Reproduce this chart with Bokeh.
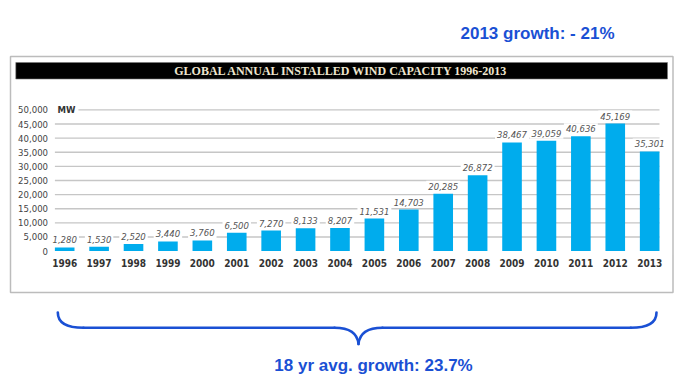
from bokeh.plotting import figure
from bokeh.models import Range1d, ColumnDataSource
from bokeh.core.properties import value
from bokeh.embed import file_html
from bokeh.resources import INLINE

# ---------------- data ----------------
years = [1996, 1997, 1998, 1999, 2000, 2001, 2002, 2003, 2004,
         2005, 2006, 2007, 2008, 2009, 2010, 2011, 2012, 2013]
capacity_mw = [1280, 1530, 2520, 3440, 3760, 6500, 7270, 8133, 8207,
               11531, 14703, 20285, 26872, 38467, 39059, 40636, 45169, 35301]
y_ticks = [0, 5000, 10000, 15000, 20000, 25000, 30000, 35000, 40000, 45000, 50000]
y_tick_labels = ["0", "5,000", "10,000", "15,000", "20,000", "25,000",
                 "30,000", "35,000", "40,000", "45,000", "50,000"]
year_labels = [str(y) for y in years]
value_labels = [f"{v:,}" for v in capacity_mw]
chart_title = "GLOBAL ANNUAL INSTALLED WIND CAPACITY 1996-2013"
unit_label = "MW"
top_note = "2013 growth: - 21%"
bottom_note = "18 yr avg. growth: 23.7%"

# ---------------- layout / styles ----------------
W, H = 680, 377
X0_PX, DX_PX = 64.2, 34.41        # px of first year, px per year
Y0_PX, DY_PX = 250.6, 0.002824    # px (from top) of 0 MW, px per MW
BAR_W = 0.57
BAR_COLOR = "#00aced"
GRID_COLOR = "#c6c6c6"
BLUE = "#1a50d4"
NARROW = value("'DejaVu Sans Condensed', 'Liberation Sans Narrow', Roboto, sans-serif")

x_range = Range1d(years[0] - X0_PX / DX_PX, years[0] + (W - X0_PX) / DX_PX)
y_range = Range1d(-(H - Y0_PX) / DY_PX, Y0_PX / DY_PX)

p = figure(width=W, height=H, x_range=x_range, y_range=y_range,
           output_backend="svg", toolbar_location=None,
           x_axis_location=None, y_axis_location=None, title=None,
           min_border=0, outline_line_color=None, background_fill_color="white",
           border_fill_color="white")
p.grid.visible = False
p.extra_x_ranges = {"px": Range1d(0, W)}
p.extra_y_ranges = {"py": Range1d(H, 0)}
PX = dict(x_range_name="px", y_range_name="py")

# outer frame and title bar
p.quad(left=10, right=672.5, top=56, bottom=292, fill_color=None,
       line_color="#bcbcbc", line_width=1.5, **PX)
p.quad(left=15.3, right=667, top=62, bottom=78.5, fill_color="black",
       line_color="#777777", line_width=0.6, **PX)
p.text(x=[341], y=[70.5], text=[chart_title], text_font=value("Liberation Serif"),
       text_font_style="bold", text_font_size="12px", text_color="#eee6cf",
       text_align="center", text_baseline="middle", **PX)

# horizontal gridlines
grid_src = ColumnDataSource(dict(y=y_ticks[1:]))
p.segment(x0=years[0] - BAR_W / 2, x1=years[-1] + BAR_W / 2, y0="y", y1="y",
          source=grid_src, line_color=GRID_COLOR, line_width=1.4)

# bars
src = ColumnDataSource(dict(year=years, mw=capacity_mw, vlab=value_labels, ylab=year_labels))
p.vbar(x="year", top="mw", bottom=0, width=BAR_W, source=src,
       fill_color=BAR_COLOR, line_color=None)

# value labels above bars
p.text(x="year", y="mw", text="vlab", source=src, text_font=NARROW,
       text_font_style="italic", text_font_size="9.5px", text_color="#555555",
       text_align="center", text_baseline="bottom", y_offset=-2,
       background_fill_color="white", padding=2)

# year labels
p.text(x="year", y=262.7, text="ylab", source=src, text_font=NARROW,
       text_font_style="bold", text_font_size="10px", text_color="#333333",
       text_align="center", text_baseline="middle", y_range_name="py")

# y tick labels
tick_src = ColumnDataSource(dict(y=y_ticks, lab=y_tick_labels))
p.text(x=47.5, y="y", text="lab", source=tick_src, text_font=NARROW,
       text_font_size="9.5px", text_color="#444444", text_align="right",
       text_baseline="middle", x_range_name="px")

# unit label
p.text(x=[54], y=[y_ticks[-1]], text=[unit_label], text_font=NARROW,
       text_font_style="bold", text_font_size="9.5px", text_color="#333333",
       text_align="left", text_baseline="middle", x_range_name="px",
       background_fill_color="white", padding=3)

# annotations
p.text(x=[537], y=[33], text=[top_note], text_font=value("Liberation Sans"),
       text_font_style="bold", text_font_size="17px", text_color=BLUE,
       text_align="center", text_baseline="middle", **PX)
p.text(x=[373], y=[365], text=[bottom_note], text_font=value("Liberation Sans"),
       text_font_style="bold", text_font_size="17px", text_color=BLUE,
       text_align="center", text_baseline="middle", **PX)

# curly brace
BL, BR, BTOP, BMID, TIPX, TIPY = 57.3, 656.0, 312.0, 327.3, 358.0, 343.5
brace = dict(line_color=BLUE, line_width=2.6, line_cap="round")
p.bezier(x0=[BL, TIPX - 24, TIPX, BR - 25.7],
         y0=[BTOP, BMID, TIPY, BMID],
         x1=[BL + 25.7, TIPX, TIPX + 24, BR],
         y1=[BMID, TIPY, BMID, BTOP],
         cx0=[BL, TIPX - 8, TIPX + 1, BR - 9],
         cy0=[BTOP + 10, BMID, TIPY - 10, BMID],
         cx1=[BL + 9, TIPX - 1, TIPX + 8, BR],
         cy1=[BMID, TIPY - 10, BMID, BTOP + 10], **brace, **PX)
p.segment(x0=[BL + 25.7, TIPX + 24], x1=[TIPX - 24, BR - 25.7],
          y0=[BMID, BMID], y1=[BMID, BMID], **brace, **PX)

open("out.html", "w").write(file_html(p, INLINE))
